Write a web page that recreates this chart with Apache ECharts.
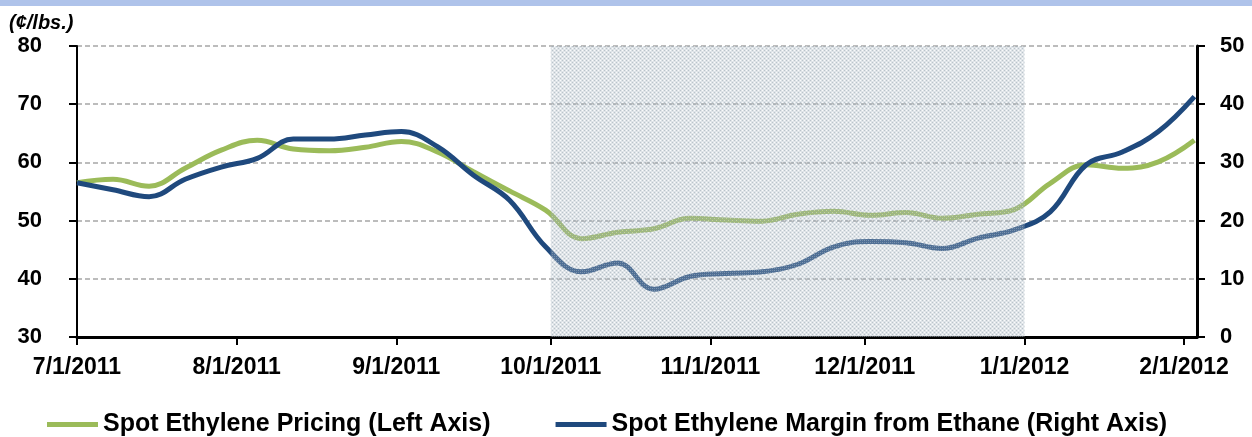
<!DOCTYPE html>
<html>
<head>
<meta charset="utf-8">
<script src="https://cdn.jsdelivr.net/npm/echarts@6/dist/echarts.min.js"></script>
<style>
  html, body { margin: 0; padding: 0; background: #fff; }
  #chart { width: 1252px; height: 437px; }
</style>
</head>
<body>
<div id="chart"></div>
<script>
// Weekly observations (Fridays)
const weekDates = [
  '2011-07-01','2011-07-08','2011-07-15','2011-07-22','2011-07-29',
  '2011-08-05','2011-08-12','2011-08-19','2011-08-26',
  '2011-09-02','2011-09-09','2011-09-16','2011-09-23','2011-09-30',
  '2011-10-07','2011-10-14','2011-10-21','2011-10-28',
  '2011-11-04','2011-11-11','2011-11-18','2011-11-25',
  '2011-12-02','2011-12-09','2011-12-16','2011-12-23','2011-12-30',
  '2012-01-06','2012-01-13','2012-01-20','2012-01-27','2012-02-03'
];
// Spot ethylene price, cents per lb (left axis)
const pricing = [
  56.5, 57.1, 55.9, 59.0, 62.1, 63.8, 62.3, 62.0, 62.6,
  63.6, 61.8, 58.4, 55.1, 51.8, 46.9, 48.0, 48.6, 50.4,
  50.1, 49.9, 51.1, 51.6, 50.9, 51.4, 50.4, 51.1, 51.9,
  56.4, 59.6, 59.0, 60.1, 63.8
];
// Spot ethylene margin over ethane, cents per lb (right axis)
const margin = [
  26.5, 25.3, 24.1, 27.1, 29.2, 30.7, 34.0, 34.0, 34.7,
  35.3, 32.7, 27.8, 23.5, 15.5, 11.2, 12.7, 8.2, 10.4,
  10.9, 11.2, 12.5, 15.5, 16.4, 16.2, 15.2, 17.0, 18.4,
  21.5, 29.6, 31.8, 35.3, 41.3
];
// Month ticks on the date axis
const tickDates = ['2011-07-01','2011-08-01','2011-09-01','2011-10-01','2011-11-01','2011-12-01','2012-01-01','2012-02-01'];
const tickLabels = ['7/1/2011','8/1/2011','9/1/2011','10/1/2011','11/1/2011','12/1/2011','1/1/2012','2/1/2012'];
// Highlighted period
const shadeStart = '2011-10-01';
const shadeEnd = '2012-01-01';

const DAY = 24 * 3600 * 1000;
const toTime = s => { const [y, m, d] = s.split('-').map(Number); return Date.UTC(y, m - 1, d); };
const tickTimes = tickDates.map(toTime);
const axisMin = toTime('2011-07-01');
const axisMax = toTime('2012-02-03') + DAY / 2;

// Dotted fill for the highlighted period
const tile = document.createElement('canvas');
tile.width = 4; tile.height = 4;
const tc = tile.getContext('2d');
tc.fillStyle = 'rgba(165,180,190,0.36)';
tc.fillRect(0, 0, 4, 4);
tc.clearRect(0, 0, 1, 1); tc.clearRect(2, 2, 1, 1);
tc.fillStyle = 'rgba(245,247,248,0.45)';
tc.fillRect(0, 0, 1, 1); tc.fillRect(2, 2, 1, 1);
tc.fillStyle = 'rgba(150,165,175,0.5)';
tc.fillRect(2, 0, 1, 1); tc.fillRect(0, 2, 1, 1);

const font = '"Liberation Sans", Arial, sans-serif';
const chart = echarts.init(document.getElementById('chart'), null, { renderer: 'canvas' });

chart.setOption({
  animation: false,
  backgroundColor: '#ffffff',
  graphic: [
    { type: 'rect', left: 0, top: 0, shape: { width: 1252, height: 6 }, style: { fill: '#AFC3EA' }, z: 0 },
    { type: 'text', left: 9, top: 13, style: { text: '(¢/lbs.)', font: 'italic bold 20px ' + font, fill: '#000' } }
  ],
  grid: { left: 77, right: 55, top: 46, bottom: 100, containLabel: false },
  legend: {
    left: 42, top: 407,
    icon: 'rect', itemWidth: 51, itemHeight: 5, itemGap: 65,
    textStyle: { fontFamily: font, fontWeight: 'bold', fontSize: 25, color: '#000' },
    data: ['Spot Ethylene Pricing (Left Axis)', 'Spot Ethylene Margin from Ethane (Right Axis)']
  },
  xAxis: {
    type: 'value', min: axisMin, max: axisMax, scale: true,
    axisLine: { lineStyle: { color: '#000', width: 3 } },
    axisTick: { show: true, length: 8, lineStyle: { color: '#000', width: 2 }, customValues: tickTimes },
    axisLabel: {
      customValues: tickTimes, margin: 19,
      formatter: v => tickLabels[tickTimes.indexOf(v)] || '',
      fontFamily: font, fontWeight: 'bold', fontSize: 23, color: '#000', hideOverlap: false
    },
    splitLine: { show: false }
  },
  yAxis: [
    {
      type: 'value', min: 30, max: 80, interval: 10, position: 'left',
      axisLine: { show: true, lineStyle: { color: '#000', width: 2 } },
      axisTick: { show: true, length: 8, lineStyle: { color: '#000', width: 2 } },
      axisLabel: { margin: 35, fontFamily: font, fontWeight: 'bold', fontSize: 22, color: '#000' },
      splitLine: { show: true, lineStyle: { color: '#A6A6A6', width: 1.5, type: [5, 3] } }
    },
    {
      type: 'value', min: 0, max: 50, interval: 10, position: 'right',
      axisLine: { show: true, lineStyle: { color: '#000', width: 3 } },
      axisTick: { show: true, length: 8, lineStyle: { color: '#000', width: 2 } },
      axisLabel: { margin: 23, fontFamily: font, fontWeight: 'bold', fontSize: 22, color: '#000' },
      splitLine: { show: false }
    }
  ],
  series: [
    {
      name: 'Spot Ethylene Pricing (Left Axis)', type: 'line', yAxisIndex: 0, z: 3,
      data: weekDates.map((d, i) => [toTime(d), pricing[i]]),
      smooth: 0.4, showSymbol: false,
      lineStyle: { color: '#9BBB59', width: 5 }, itemStyle: { color: '#9BBB59' }
    },
    {
      name: 'Spot Ethylene Margin from Ethane (Right Axis)', type: 'line', yAxisIndex: 1, z: 4,
      data: weekDates.map((d, i) => [toTime(d), margin[i]]),
      smooth: 0.4, showSymbol: false,
      lineStyle: { color: '#1F497D', width: 5 }, itemStyle: { color: '#1F497D' }
    },
    {
      name: 'shade', type: 'line', yAxisIndex: 0, z: 10, data: [],
      markArea: {
        silent: true, z: 10,
        itemStyle: { color: { image: tile, repeat: 'repeat' } },
        data: [[{ xAxis: toTime(shadeStart) }, { xAxis: toTime(shadeEnd) }]]
      }
    }
  ]
});
</script>
</body>
</html>
